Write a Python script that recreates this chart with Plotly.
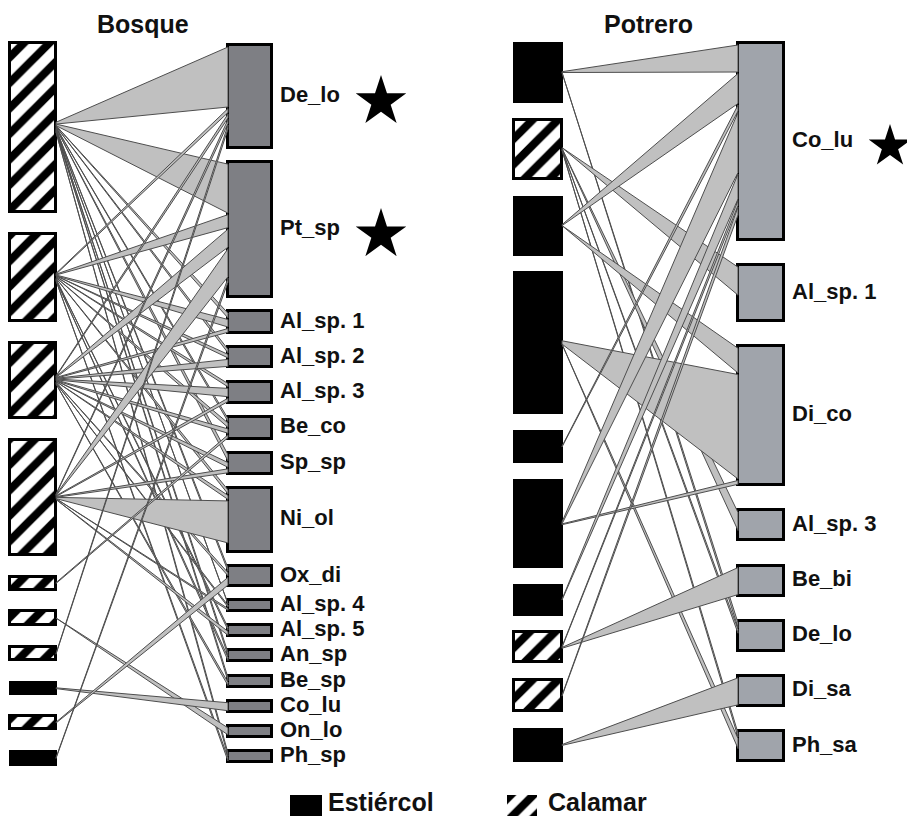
import plotly.graph_objects as go

# ---------------- data ----------------
# Bosque (forest) network
bosque_left_sizes = [169, 87, 75, 115, 13, 14, 13, 12, 13, 14]
bosque_left_types = ["Calamar", "Calamar", "Calamar", "Calamar", "Calamar",
                     "Calamar", "Calamar", "Estiércol", "Calamar", "Estiércol"]
bosque_right_names = ["De_lo", "Pt_sp", "Al_sp. 1", "Al_sp. 2", "Al_sp. 3", "Be_co",
                      "Sp_sp", "Ni_ol", "Ox_di", "Al_sp. 4", "Al_sp. 5", "An_sp",
                      "Be_sp", "Co_lu", "On_lo", "Ph_sp"]
bosque_right_sizes = [103, 135, 22, 20, 21, 22, 21, 64, 20, 11, 11, 11, 11, 11, 11, 11]
bosque_starred = ["De_lo", "Pt_sp"]
bosque_link_src = [0, 0, 0, 0, 0, 0, 0, 0, 0, 0, 0,
                   1, 1, 1, 1, 1, 1, 1, 1, 1, 1,
                   2, 2, 2, 2, 2, 2, 2, 2, 2, 2, 2,
                   3, 3, 3, 3, 3, 3, 3,
                   4, 5, 6, 7, 8, 9]
bosque_link_dst = ["De_lo", "Pt_sp", "Al_sp. 1", "Al_sp. 2", "Be_co", "Sp_sp", "Ox_di",
                   "Al_sp. 4", "An_sp", "Be_sp", "Ph_sp",
                   "De_lo", "Pt_sp", "Al_sp. 1", "Al_sp. 2", "Al_sp. 3", "Be_co", "Ni_ol",
                   "Al_sp. 5", "An_sp", "Ph_sp",
                   "De_lo", "Pt_sp", "Al_sp. 1", "Al_sp. 2", "Al_sp. 3", "Be_co", "Sp_sp",
                   "Ni_ol", "Ox_di", "Al_sp. 4", "Be_sp",
                   "De_lo", "Pt_sp", "Al_sp. 3", "Sp_sp", "Ni_ol", "Al_sp. 4", "Al_sp. 5",
                   "Be_co", "On_lo", "De_lo", "Co_lu", "Ox_di", "Pt_sp"]
bosque_link_w = [60, 49, 5, 4, 4, 8, 4, 4, 4, 4, 4,
                 4, 13, 8, 4, 4, 6, 4, 4, 4, 4,
                 4, 18, 4, 8, 10, 6, 6, 4, 4, 4, 4,
                 4, 28, 4, 5, 42, 4, 6,
                 4, 7, 4, 8, 10, 4]

# Potrero (pasture) network
potrero_left_sizes = [59, 59, 58, 141, 31, 87, 30, 30, 31, 32]
potrero_left_types = ["Estiércol", "Calamar", "Estiércol", "Estiércol", "Estiércol",
                      "Estiércol", "Estiércol", "Calamar", "Calamar", "Estiércol"]
potrero_right_names = ["Co_lu", "Al_sp. 1", "Di_co", "Al_sp. 3", "Be_bi", "De_lo",
                       "Di_sa", "Ph_sa"]
potrero_right_sizes = [197, 56, 139, 30, 30, 30, 30, 30]
potrero_starred = ["Co_lu"]
potrero_link_src = [0, 0, 1, 1, 1, 1, 2, 2, 3, 3, 4, 5, 5, 6, 7, 7, 8, 9]
potrero_link_dst = ["Co_lu", "De_lo", "Al_sp. 1", "Al_sp. 3", "De_lo", "Ph_sa",
                    "Co_lu", "Di_co", "Di_co", "Ph_sa", "Co_lu", "Co_lu", "Di_co",
                    "Co_lu", "Co_lu", "Be_bi", "Co_lu", "Di_sa"]
potrero_link_w = [27, 5, 28, 18, 4, 4, 30, 26, 110, 10, 6, 60, 4, 25, 5, 27, 8, 27]

legend_labels = ["Estiércol", "Calamar"]

# ---------------- styling ----------------
PAGE_W, PAGE_H = 915, 824
BODY_MARGIN = 8          # default page margin around the plot div
W, H = PAGE_W - 2 * BODY_MARGIN, PAGE_H - 2 * BODY_MARGIN
LINK_FILL = "#c0c0c0"
LINK_LINE = "#4e4e4e"
BOSQUE_NODE = "#7e7f84"
POTRERO_NODE = "#a0a4ab"
FONT = "Liberation Sans"
HATCH = dict(shape="/", fgcolor="black", bgcolor="white", size=18, solidity=0.45,
             fillmode="replace")

fig = go.Figure()


def stack(sizes, top, bottom):
    gap = (bottom - top - sum(sizes)) / (len(sizes) - 1)
    pos, y = [], top
    for s in sizes:
        pos.append(y)
        y += s + gap
    return pos


def add_network(lsizes, ltypes, rnames, rsizes, starred, src, dst, wts,
                lx, rx, ltop, lbot, rtop, rbot, rcolor, star_x, star_size, title, title_x):
    lpos = stack(lsizes, ltop, lbot)
    rpos = stack(rsizes, rtop, rbot)
    ridx = {n: i for i, n in enumerate(rnames)}
    links = [(s, ridx[d], w) for s, d, w in zip(src, dst, wts)]

    # right-end spans: stacked from the top of each target node
    right_span = {}
    for j in range(len(rnames)):
        ls = sorted([k for k, l in enumerate(links) if l[1] == j], key=lambda k: links[k][0])
        if not ls:
            continue
        tot = sum(links[k][2] for k in ls)
        avail = rsizes[j] - 3 - 1.5 * (len(ls) - 1)
        f = min(1.0, avail / tot)
        y = rpos[j] + 2
        for k in ls:
            h = links[k][2] * f
            right_span[k] = (y, y + h)
            y += h + 1.5
    # left-end spans: tiny spread around the centre of the source node
    left_span = {}
    for i in range(len(lsizes)):
        ls = sorted([k for k, l in enumerate(links) if l[0] == i], key=lambda k: links[k][1])
        if not ls:
            continue
        ws = [max(0.8, links[k][2] * 0.03) for k in ls]
        y = lpos[i] + lsizes[i] / 2 - sum(ws) / 2
        for k, w in zip(ls, ws):
            left_span[k] = (y, y + w)
            y += w

    for k in range(len(links)):
        a0, a1 = left_span[k]
        b0, b1 = right_span[k]
        fig.add_trace(go.Scatter(
            x=[lx[1], rx[0], rx[0], lx[1], lx[1]],
            y=[a0, b0, b1, a1, a0],
            mode="lines", fill="toself", fillcolor=LINK_FILL,
            line=dict(color=LINK_LINE, width=1), hoverinfo="skip", showlegend=False))

    # left nodes
    for t in ["Estiércol", "Calamar"]:
        ii = [i for i in range(len(lsizes)) if ltypes[i] == t]
        marker = dict(color="black", line=dict(color="black", width=2))
        if t == "Calamar":
            marker = dict(color="white", pattern=HATCH, line=dict(color="black", width=3))
        fig.add_trace(go.Bar(
            x=[(lx[0] + lx[1]) / 2] * len(ii), y=[lsizes[i] for i in ii],
            base=[lpos[i] for i in ii], width=lx[1] - lx[0], marker=marker,
            hoverinfo="skip", showlegend=False))
    # right nodes
    fig.add_trace(go.Bar(
        x=[(rx[0] + rx[1]) / 2] * len(rsizes), y=rsizes, base=rpos,
        width=rx[1] - rx[0], marker=dict(color=rcolor, line=dict(color="black", width=3)),
        hoverinfo="skip", showlegend=False))
    mids = [p + s / 2 for p, s in zip(rpos, rsizes)]
    fig.add_trace(go.Scatter(
        x=[rx[1] + 8] * len(rnames), y=mids, mode="text", text=rnames,
        textposition="middle right", cliponaxis=False,
        textfont=dict(family=FONT, size=22, color="#111111", weight="bold"),
        hoverinfo="skip", showlegend=False))
    sm = [mids[ridx[n]] + 5 for n in starred]
    fig.add_trace(go.Scatter(
        x=[star_x] * len(sm), y=sm, mode="markers", cliponaxis=False,
        marker=dict(symbol="star", size=star_size, color="black", line=dict(width=0)),
        hoverinfo="skip", showlegend=False))
    fig.add_annotation(x=title_x, y=24, text="<b>%s</b>" % title, showarrow=False,
                       font=dict(family=FONT, size=25, color="#111111"))


add_network(bosque_left_sizes, bosque_left_types, bosque_right_names, bosque_right_sizes,
            bosque_starred, bosque_link_src, bosque_link_dst, bosque_link_w,
            (10, 56), (228, 272), 43, 765, 45, 762, BOSQUE_NODE, 381, 38, "Bosque", 143)
add_network(potrero_left_sizes, potrero_left_types, potrero_right_names, potrero_right_sizes,
            potrero_starred, potrero_link_src, potrero_link_dst, potrero_link_w,
            (514, 562), (738, 784), 43, 761, 43, 761, POTRERO_NODE, 890, 32, "Potrero", 648)

# manual legend
fig.add_trace(go.Bar(x=[306], y=[22], base=[795], width=32,
                     marker=dict(color="black", line=dict(width=0)),
                     hoverinfo="skip", showlegend=False))
fig.add_trace(go.Bar(x=[522], y=[22], base=[795], width=30,
                     marker=dict(color="white", pattern=dict(HATCH, size=16, solidity=0.5),
                                 line=dict(width=0)),
                     hoverinfo="skip", showlegend=False))
fig.add_trace(go.Scatter(x=[328, 548], y=[805, 805], mode="text", text=legend_labels,
                         textposition="middle right", cliponaxis=False,
                         textfont=dict(family=FONT, size=25, color="#111111", weight="bold"),
                         hoverinfo="skip", showlegend=False))

fig.update_layout(
    width=W, height=H, margin=dict(l=0, r=0, t=0, b=0),
    paper_bgcolor="white", plot_bgcolor="white", barmode="overlay", bargap=0,
    xaxis=dict(range=[BODY_MARGIN, PAGE_W - BODY_MARGIN], visible=False, fixedrange=True),
    yaxis=dict(range=[PAGE_H - BODY_MARGIN, BODY_MARGIN], visible=False, fixedrange=True),
    showlegend=False,
)
fig.write_html("out.html")
